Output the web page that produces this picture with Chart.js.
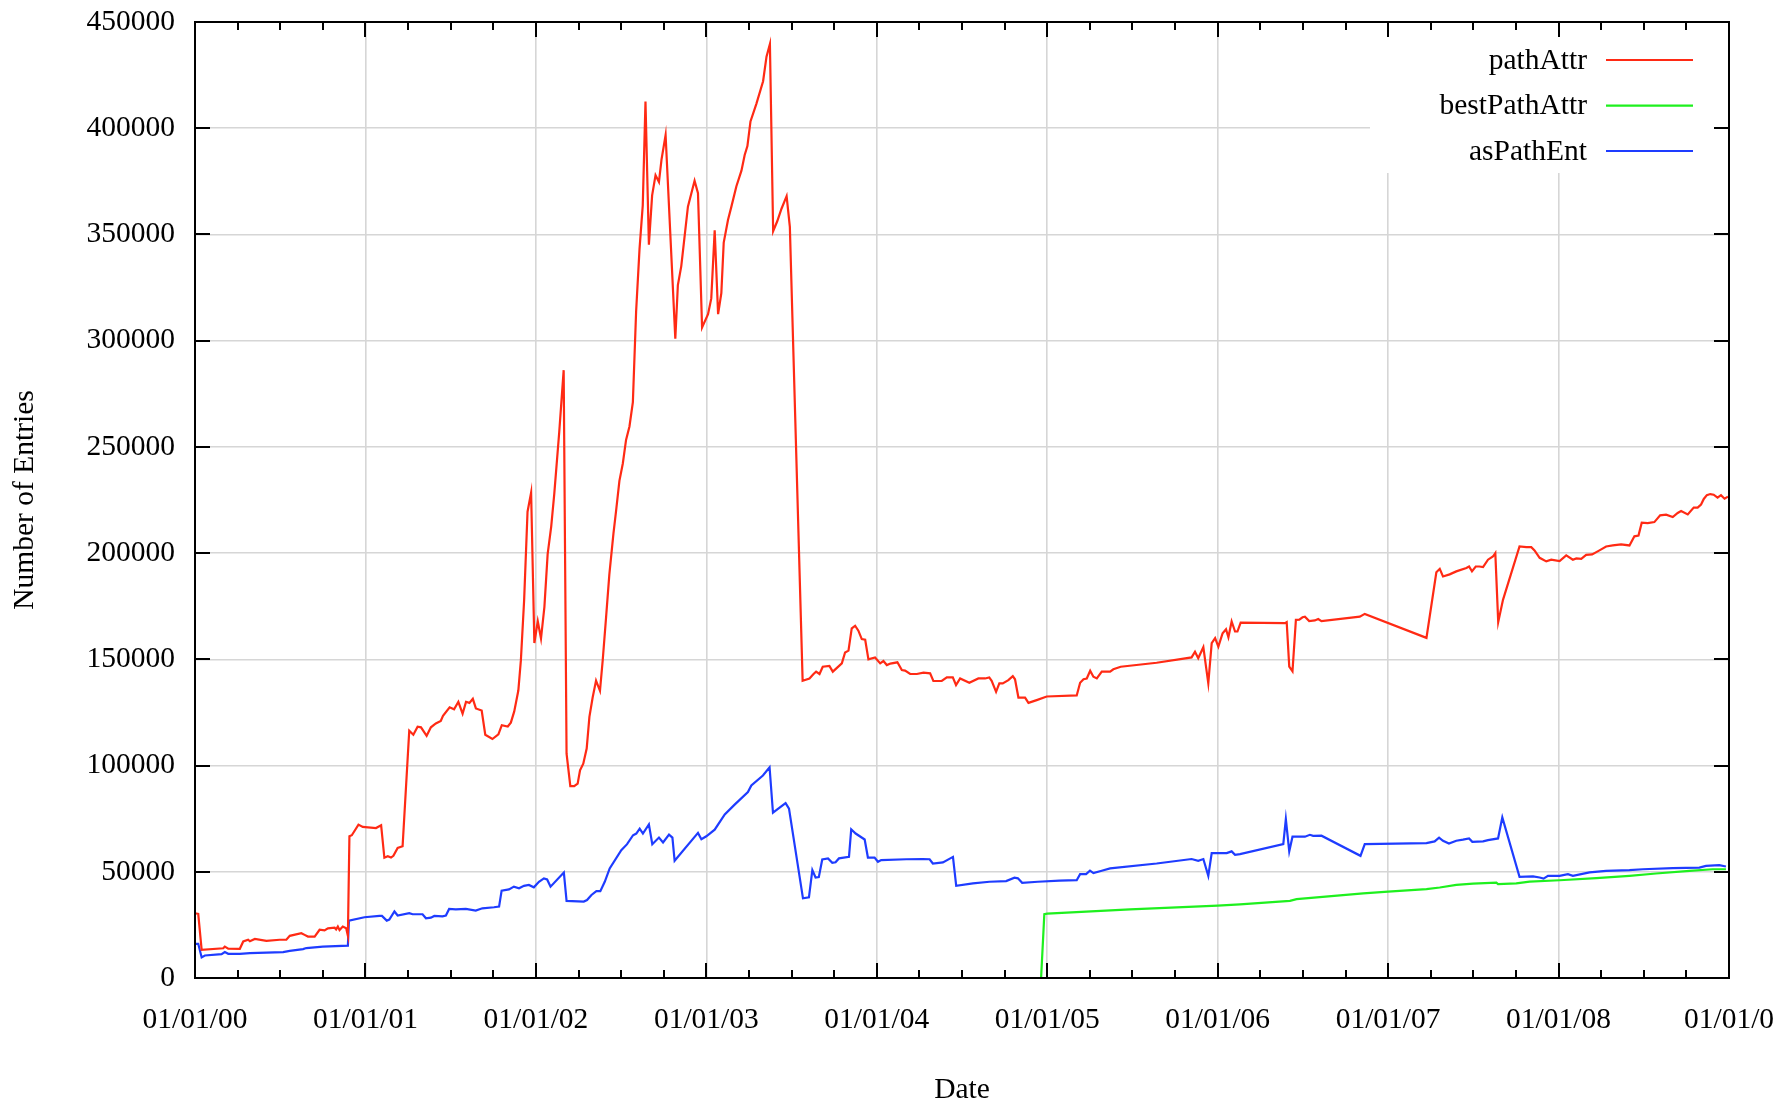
<!DOCTYPE html>
<html>
<head>
<meta charset="utf-8">
<script src="https://cdn.jsdelivr.net/npm/chart.js@4.4.1/dist/chart.umd.min.js"></script>
<style>
  html, body { margin: 0; padding: 0; background: #ffffff; }
  #wrap { width: 1790px; height: 1101px; position: relative; }
</style>
</head>
<body>
<div id="wrap"><canvas id="c"></canvas></div>
<script>
// ---------- DATA (x = years after 01/01/2000) ----------
const BASE_YEAR = 2000;
const seriesNames = ['pathAttr', 'bestPathAttr', 'asPathEnt'];
const xTickLabels = ['01/01/00','01/01/01','01/01/02','01/01/03','01/01/04','01/01/05','01/01/06','01/01/07','01/01/08','01/01/0'];

const pathAttrT = [
  0.000,0.019,0.039,0.166,0.175,0.195,0.263,0.283,0.312,0.322,
  0.351,0.419,0.497,0.536,0.556,0.624,0.643,0.663,0.702,0.731,
  0.760,0.780,0.819,0.828,0.838,0.848,0.867,0.887,0.897,0.906,
  0.920,0.959,0.984,1.062,1.092,1.111,1.131,1.150,1.164,1.189,
  1.218,1.257,1.281,1.306,1.326,1.359,1.384,1.413,1.442,1.455,
  1.494,1.520,1.545,1.570,1.590,1.610,1.630,1.648,1.682,1.703,
  1.745,1.780,1.800,1.835,1.853,1.873,1.897,1.912,1.931,1.951,
  1.972,1.991,2.011,2.030,2.050,2.069,2.090,2.108,2.137,2.163,
  2.180,2.202,2.225,2.245,2.259,2.278,2.298,2.314,2.333,2.353,
  2.376,2.392,2.412,2.431,2.455,2.471,2.490,2.510,2.529,2.549,
  2.569,2.588,2.608,2.627,2.643,2.663,2.682,2.702,2.722,2.737,
  2.761,2.818,2.833,2.853,2.873,2.892,2.931,2.951,2.975,3.010,
  3.029,3.049,3.069,3.088,3.102,3.127,3.147,3.176,3.206,3.225,
  3.241,3.259,3.294,3.333,3.353,3.373,3.392,3.416,3.441,3.471,
  3.490,3.565,3.605,3.629,3.644,3.664,3.683,3.722,3.742,3.795,
  3.814,3.834,3.853,3.873,3.892,3.912,3.932,3.951,3.990,4.020,
  4.039,4.059,4.080,4.121,4.147,4.166,4.196,4.235,4.274,4.313,
  4.332,4.381,4.411,4.446,4.465,4.489,4.543,4.596,4.635,4.660,
  4.674,4.700,4.719,4.739,4.772,4.798,4.811,4.831,4.870,4.890,
  4.938,4.997,5.173,5.193,5.213,5.232,5.252,5.271,5.291,5.320,
  5.369,5.388,5.431,5.642,5.847,5.867,5.886,5.916,5.945,5.965,
  5.985,6.004,6.029,6.049,6.063,6.082,6.102,6.116,6.135,6.395,
  6.405,6.420,6.439,6.459,6.479,6.498,6.512,6.537,6.570,6.590,
  6.609,6.834,6.863,7.225,7.283,7.303,7.322,7.361,7.400,7.459,
  7.475,7.492,7.514,7.535,7.557,7.586,7.615,7.629,7.646,7.674,
  7.771,7.811,7.840,7.859,7.889,7.928,7.957,8.006,8.045,8.084,
  8.104,8.133,8.162,8.197,8.240,8.279,8.318,8.367,8.416,8.445,
  8.469,8.488,8.523,8.562,8.596,8.631,8.670,8.699,8.719,8.758,
  8.793,8.816,8.836,8.852,8.870,8.890,8.910,8.933,8.953,8.974,
  8.994
];
const pathAttrV = [
  30500,30200,13300,14000,14800,13800,13750,17200,18000,17300,
  18400,17500,18000,18000,19850,21100,20300,19500,19500,22700,
  22400,23400,23700,22900,24200,22600,24200,23400,19850,66700,
  67200,72200,71100,70600,71900,56600,57300,56700,57500,61250,
  62000,116400,114500,118300,118000,114000,118000,119800,121000,123400,
  127400,126500,130000,124400,130000,129500,131400,126900,125900,114500,
  112500,114700,119000,118400,120200,125500,135300,149600,177800,219500,
  228500,157700,167900,159800,174700,199500,212600,228000,257000,286100,
  105600,90300,90300,91500,97800,100900,108000,122900,132000,140000,
  135200,149500,170000,190000,209200,220200,234000,242200,253300,259600,
  271000,313600,343100,363700,412600,345200,368400,377900,374700,385200,
  396800,300900,326200,335100,349400,363100,375300,369400,306200,312500,
  319900,351900,312500,322400,346200,356800,363100,372600,380000,387400,
  391600,403200,411600,422100,433700,439600,351500,356200,362100,368000,
  353600,139900,141000,143100,144200,143100,146500,146900,144200,148100,
  153200,154100,164600,165800,163500,159500,159200,150000,150900,148100,
  149200,147300,148000,148600,145000,144700,143100,143100,143700,143400,
  139800,139800,141500,141500,137900,141000,139000,141000,141000,141500,
  139900,134700,138700,138700,140200,142100,140600,132000,132000,129500,
  130800,132500,133000,139000,140600,141000,144600,141800,141000,144200,
  144200,145300,146500,148400,150900,153600,150500,155700,138700,157600,
  160000,156000,162300,164200,160400,167800,163100,163100,167300,167000,
  167500,146600,144400,168600,168700,169800,170100,168000,168300,169000,
  168000,170100,171400,160100,191000,192600,189000,190000,191400,193000,
  193700,191400,193700,193700,193400,196900,198400,200000,167500,178000,
  203100,202800,202800,201300,197800,196100,196900,196200,198900,196900,
  197500,197300,199200,199400,201300,203100,203600,204100,203600,207900,
  208300,214300,214100,214600,217800,218100,217000,218900,219800,218200,
  221400,221400,222900,225500,227300,227800,227500,226100,227300,225600,
  226600
];

const bestPathAttrT = [
  4.964,4.983,5.000,5.486,6.000,6.131,6.424,6.463,6.854,7.000,
  7.225,7.303,7.400,7.498,7.635,7.645,7.752,7.830,8.006,8.221,
  8.416,8.572,8.768,8.904,8.982
];
const bestPathAttrV = [
  0,30000,30300,32300,34100,34700,36300,37100,39800,40700,
  41800,42600,43800,44400,44900,44200,44500,45400,46000,47000,
  48100,49200,50400,51200,51200
];

const asPathEntT = [
  0.000,0.019,0.039,0.058,0.156,0.175,0.195,0.263,0.322,0.419,
  0.517,0.556,0.634,0.653,0.750,0.897,0.903,0.994,1.082,1.097,
  1.125,1.140,1.170,1.189,1.257,1.277,1.335,1.355,1.384,1.404,
  1.452,1.472,1.491,1.530,1.589,1.647,1.686,1.754,1.784,1.799,
  1.842,1.871,1.901,1.930,1.959,1.988,2.018,2.047,2.066,2.086,
  2.164,2.180,2.281,2.300,2.326,2.355,2.378,2.404,2.433,2.501,
  2.535,2.570,2.589,2.609,2.628,2.663,2.683,2.722,2.746,2.781,
  2.801,2.814,2.951,2.971,3.000,3.049,3.108,3.166,3.244,3.264,
  3.332,3.371,3.391,3.465,3.485,3.567,3.602,3.622,3.641,3.660,
  3.680,3.714,3.739,3.758,3.778,3.837,3.850,3.876,3.929,3.948,
  3.987,4.007,4.026,4.173,4.270,4.310,4.329,4.388,4.447,4.466,
  4.564,4.661,4.759,4.808,4.828,4.853,4.945,5.072,5.173,5.193,
  5.228,5.251,5.271,5.320,5.369,5.642,5.847,5.886,5.916,5.945,
  5.965,6.053,6.082,6.102,6.131,6.385,6.400,6.420,6.439,6.512,
  6.541,6.560,6.609,6.838,6.863,7.225,7.273,7.299,7.322,7.357,
  7.400,7.439,7.475,7.494,7.557,7.586,7.645,7.670,7.771,7.850,
  7.889,7.912,7.938,8.006,8.055,8.084,8.182,8.279,8.416,8.494,
  8.670,8.826,8.865,8.943,8.982
];
const asPathEntV = [
  16100,16100,9700,10600,11250,12200,11400,11400,11700,11900,
  12200,12800,13600,14100,14800,15200,27000,28600,29200,29200,
  27000,27500,31300,29400,30500,30000,30000,28100,28400,29200,
  29000,29400,32500,32300,32500,31700,32800,33300,33600,41100,
  41700,43000,42200,43400,43800,42700,45300,46900,46400,43000,
  49700,36300,36000,36700,39100,40900,40900,45300,51600,60200,
  63000,67200,68000,70300,68000,72300,63000,66100,63800,67500,
  66100,55200,68300,65300,66700,69800,77000,81600,87500,90600,
  95300,99200,77800,82300,79700,37500,38000,50800,47300,47500,
  55800,56300,54200,54500,56300,57000,70000,68000,65200,56700,
  56700,54700,55500,55900,56000,55900,53900,54400,57000,43400,
  44500,45300,45600,47200,46900,44800,45300,45800,46050,48900,
  48900,50500,49400,50500,51600,53900,56000,55200,56000,48100,
  58800,58800,59600,58000,58300,63000,74800,59600,66500,66500,
  67400,66900,67000,57500,63000,63500,64300,66100,64600,63300,
  64600,65100,65700,64100,64300,64900,65700,75600,47600,47800,
  47300,46800,48100,48100,48900,48100,49700,50400,50800,51200,
  51700,52000,52800,53100,52500
];

// ---------- STYLE ----------
const COLORS = ['#ff2a14', '#1ef01e', '#1e3cff'];
const FONT = { family: "'Liberation Serif', 'Times New Roman', serif", size: 29.5 };
const GRID = 'rgb(214,214,214)';

function toPoints(ts, vs) { return ts.map((t, i) => ({ x: BASE_YEAR + t, y: vs[i] })); }

const frame = {
  id: 'gnuFrame',
  beforeDatasetsDraw(chart) {
    const { ctx, chartArea: a } = chart;
    ctx.save();
    // key box (hides grid)
    ctx.fillStyle = '#ffffff';
    ctx.fillRect(a.right - 359, a.top + 1, 359, 150);
    // key entries
    ctx.font = FONT.size + 'px ' + FONT.family;
    ctx.textAlign = 'right';
    ctx.textBaseline = 'middle';
    const rows = [38, 83.7, 129];
    chart.data.datasets.forEach((ds, i) => {
      const y = a.top + rows[i];
      ctx.fillStyle = '#000';
      ctx.fillText(ds.label, a.right - 142, y + 1);
      ctx.strokeStyle = ds.borderColor;
      ctx.lineWidth = 2.2;
      ctx.beginPath();
      ctx.moveTo(a.right - 123, y);
      ctx.lineTo(a.right - 36, y);
      ctx.stroke();
    });
    ctx.restore();
  },
  afterDatasetsDraw(chart) {
    const { ctx, chartArea: a, scales } = chart;
    const xs = scales.x, ys = scales.y;
    ctx.save();
    ctx.strokeStyle = '#000';
    ctx.lineWidth = 2;
    ctx.beginPath();
    // x ticks: major yearly, minor quarterly, on bottom and top
    for (let q = 0; q <= 36; q++) {
      const px = Math.round(xs.getPixelForValue(BASE_YEAR + q / 4)) ;
      const len = (q % 4 === 0) ? 15 : 8;
      ctx.moveTo(px, a.bottom); ctx.lineTo(px, a.bottom - len);
      ctx.moveTo(px, a.top); ctx.lineTo(px, a.top + len);
    }
    // y ticks on left and right
    for (let v = 0; v <= 450000; v += 50000) {
      const py = Math.round(ys.getPixelForValue(v));
      ctx.moveTo(a.left, py); ctx.lineTo(a.left + 15, py);
      ctx.moveTo(a.right, py); ctx.lineTo(a.right - 15, py);
    }
    ctx.stroke();
    ctx.strokeRect(a.left, a.top, a.right - a.left, a.bottom - a.top);
    ctx.restore();
  }
};

new Chart(document.getElementById('c'), {
  type: 'line',
  data: {
    datasets: [
      { label: seriesNames[0], data: toPoints(pathAttrT, pathAttrV), borderColor: COLORS[0] },
      { label: seriesNames[1], data: toPoints(bestPathAttrT, bestPathAttrV), borderColor: COLORS[1] },
      { label: seriesNames[2], data: toPoints(asPathEntT, asPathEntV), borderColor: COLORS[2] }
    ]
  },
  options: {
    responsive: true,
    maintainAspectRatio: false,
    animation: false,
    devicePixelRatio: 1,
    parsing: false,
    layout: { padding: { top: 22, right: 61, bottom: 0, left: 0 } },
    elements: {
      line: { borderWidth: 2.2, tension: 0, fill: false },
      point: { radius: 0, hoverRadius: 0 }
    },
    plugins: { legend: { display: false }, tooltip: { enabled: false } },
    scales: {
      x: {
        type: 'linear',
        min: BASE_YEAR, max: BASE_YEAR + 9,
        afterFit(s) { s.height = 123; s.paddingLeft = 0; s.paddingRight = 0; },
        ticks: {
          stepSize: 1, autoSkip: false, maxRotation: 0, padding: 25,
          color: '#000', font: { ...FONT, lineHeight: 1.2 },
          callback: (v) => xTickLabels[Math.round(v - BASE_YEAR)]
        },
        grid: { color: GRID, lineWidth: 1.6, drawTicks: false },
        border: { display: false },
        title: { display: true, text: 'Date', color: '#000', font: { ...FONT, lineHeight: 1 }, padding: { top: 0, bottom: -4 } }
      },
      y: {
        min: 0, max: 450000,
        afterFit(s) { s.width = 195; s.paddingTop = 0; s.paddingBottom = 0; },
        ticks: {
          stepSize: 50000, padding: 20, color: '#000',
          font: { ...FONT, lineHeight: 1.2 },
          callback: (v) => String(v)
        },
        grid: { color: GRID, lineWidth: 1.6, drawTicks: false },
        border: { display: false },
        title: { display: true, text: 'Number of Entries', color: '#000', font: { ...FONT, lineHeight: 1 }, padding: { top: 10, bottom: 0 } }
      }
    }
  },
  plugins: [frame]
});
</script>
</body>
</html>
